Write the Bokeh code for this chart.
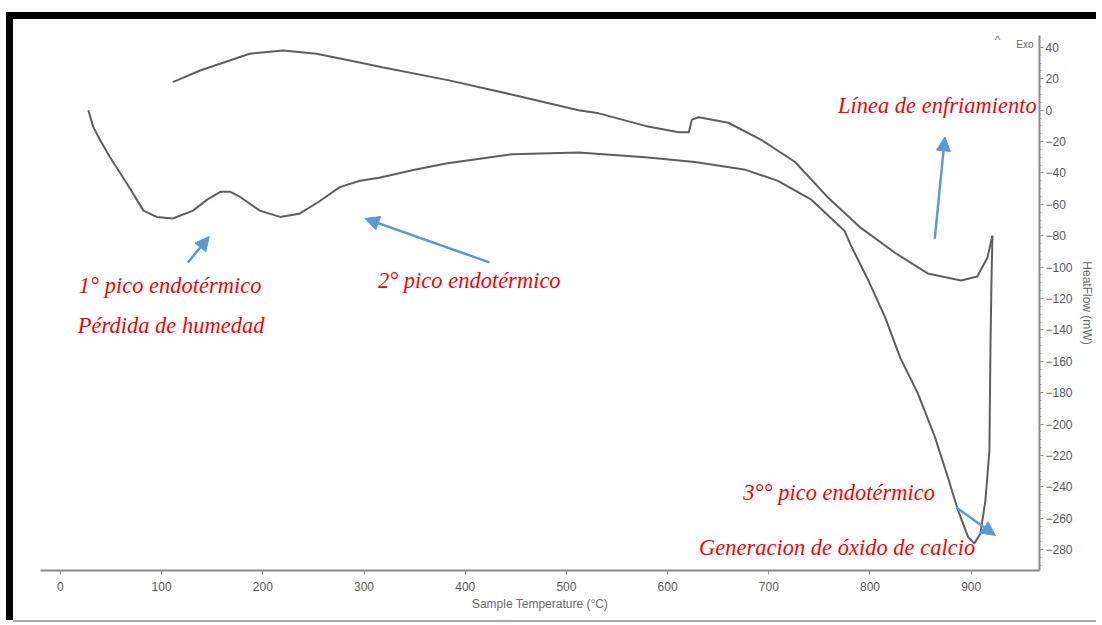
from bokeh.plotting import figure
from bokeh.models import Range1d, Arrow, NormalHead, FixedTicker, Label
from bokeh.embed import file_html
from bokeh.resources import INLINE

# Heating run (sample temperature °C, heat flow mW)
heat_T = [27.6, 32.5, 40, 49, 66, 82, 95, 111, 131, 145, 158, 168, 177, 197, 217, 236,
          256, 276, 296, 315, 350, 381, 446, 512, 578, 627, 677, 709, 742, 775, 781,
          798, 815, 830, 847, 864, 877, 887, 897, 903, 909, 914, 918, 919, 920, 921]
heat_HF = [0, -10.8, -20, -30, -47, -64, -68, -69, -64, -57, -52, -52, -55, -64, -68, -66,
           -58, -49, -45, -43, -38, -34, -28, -27, -30, -33, -38, -45, -57, -77, -86,
           -108, -132, -158, -180, -208, -234, -255, -272, -276, -270, -249, -217, -153, -110, -80]

# Cooling run (línea de enfriamiento)
cool_T = [921, 916, 906, 890, 857, 825, 791, 759, 726, 693, 660, 631, 624, 621, 611,
          578, 532, 512, 450, 384, 318, 286, 253, 220, 187, 138, 111]
cool_HF = [-80, -94, -106, -108.5, -104, -91, -75, -56, -33, -19, -8, -4.5, -6, -14, -14,
           -10, -2, 0, 9.4, 19, 27.4, 31.7, 36, 38, 36, 25.3, 17.9]

x_ticks = [0, 100, 200, 300, 400, 500, 600, 700, 800, 900]
y_ticks = [40, 20, 0, -20, -40, -60, -80, -100, -120, -140, -160, -180, -200, -220, -240, -260, -280]

# Annotations (text, T, HF)
ann_text = ["Línea de enfriamiento", "1° pico endotérmico", "Pérdida de humedad",
            "2° pico endotérmico", "3°° pico endotérmico", "Generacion de óxido de calcio"]
ann_T = [866.5, 108.4, 109.4, 404, 769.5, 767.5]
ann_HF = [3.0, -111.7, -137.2, -108.5, -243.6, -278.7]

# Arrows (tail T, tail HF, tip T, tip HF)
arr_T0 = [126, 424, 864, 885]
arr_H0 = [-97, -97, -82, -253]
arr_T1 = [147, 301, 874, 924]
arr_H1 = [-80.5, -69, -17, -271]

p = figure(width=1083, height=601,
           x_range=Range1d(-19.7, 967.5), y_range=Range1d(-293.3, 47.6),
           output_backend="svg", toolbar_location=None,
           x_axis_location="below", y_axis_location="right",
           min_border_left=27, min_border_top=16, min_border_bottom=50, min_border_right=54)
p.styles = {"margin-top": "19px", "margin-left": "13px",
            "box-shadow": "-7px 0 0 0 black, 0 -7px 0 0 black, -7px -7px 0 0 black, 0 2px 0 0 #aaaaaa"}
p.grid.visible = False
p.outline_line_color = None
p.background_fill_color = "white"
p.border_fill_color = "white"

line_col = "#5f5f5f"
p.line(heat_T, heat_HF, line_color=line_col, line_width=2)
p.line(cool_T, cool_HF, line_color=line_col, line_width=2)

xa = p.xaxis[0]
xa.ticker = FixedTicker(ticks=x_ticks, minor_ticks=[])
xa.axis_label = "Sample Temperature (°C)"
ya = p.yaxis[0]
ya.ticker = FixedTicker(ticks=y_ticks, minor_ticks=list(range(-290, 45, 5)))
ya.axis_label = "HeatFlow (mW)"
for ax in (xa, ya):
    ax.axis_line_color = "#8a8a8a"
    ax.axis_line_width = 2
    ax.major_tick_line_color = "#8a8a8a"
    ax.minor_tick_line_color = "#9a9a9a"
    ax.major_tick_in = 0
    ax.major_tick_out = 4
    ax.minor_tick_in = 0
    ax.minor_tick_out = 2
    ax.major_label_text_font = "Liberation Sans"
    ax.major_label_text_font_size = "12px"
    ax.major_label_text_color = "#5a5a5a"
    ax.axis_label_text_font = "Liberation Sans"
    ax.axis_label_text_font_size = "12px"
    ax.axis_label_text_font_style = "normal"
    ax.axis_label_text_color = "#6a6a6a"
xa.major_label_standoff = 7
xa.axis_label_standoff = 3
ya.major_label_standoff = 2
ya.axis_label_standoff = 4

for t, tx, hy in zip(ann_text, ann_T, ann_HF):
    p.add_layout(Label(x=tx, y=hy, text=t, text_align="center", text_baseline="middle",
                       text_font="Liberation Serif", text_font_style="italic",
                       text_font_size="22.5px", text_color="#ff0000", level="overlay"))

arrow_col = "#5b9bd5"
for a0, b0, a1, b1 in zip(arr_T0, arr_H0, arr_T1, arr_H1):
    p.add_layout(Arrow(x_start=a0, y_start=b0, x_end=a1, y_end=b1,
                       line_color=arrow_col, line_width=2.5,
                       end=NormalHead(size=14, fill_color=arrow_col, line_color=arrow_col)))

p.add_layout(Label(x=926, y=45, text="^", text_align="center", text_baseline="middle",
                   text_font="Liberation Sans", text_font_size="12px", text_color="#888888"))
p.add_layout(Label(x=953, y=42, text="Exo", text_align="center", text_baseline="middle",
                   text_font="Liberation Sans", text_font_size="10px", text_color="#666666"))

open("out.html", "w").write(file_html(p, INLINE))
